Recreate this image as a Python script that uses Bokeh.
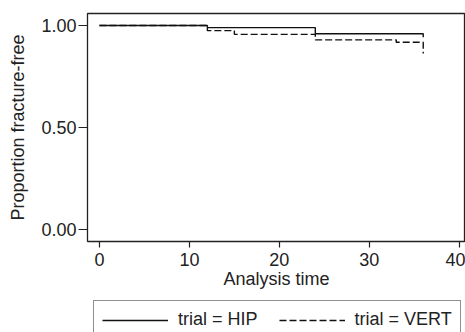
from bokeh.plotting import figure
from bokeh.layouts import column
from bokeh.models import FixedTicker, Legend, LegendItem, Range1d, PrintfTickFormatter
from bokeh.embed import file_html
from bokeh.resources import INLINE

# Data
hip_time = [0, 12, 24, 36]
hip_surv = [1.0, 0.99, 0.96, 0.943]
vert_time = [0, 12, 15, 24, 33, 36]
vert_surv = [1.0, 0.975, 0.957, 0.93, 0.918, 0.863]
x_ticks = [0, 10, 20, 30, 40]
y_ticks = [0.0, 0.5, 1.0]
labels = ["trial = HIP", "trial = VERT"]

FONT = "Liberation Sans"
FS = "18px"
INK = "#222222"
DASH = "7 3"

p = figure(frame_width=378, frame_height=228, output_backend="svg", toolbar_location=None,
           x_range=Range1d(-1.33, 40.7), y_range=Range1d(-0.057, 1.059),
           min_border_left=87, min_border_top=13, min_border_right=0, min_border_bottom=52)
p.xgrid.visible = False
p.ygrid.visible = False
p.outline_line_color = INK
p.outline_line_width = 1.3

r1 = p.step(hip_time, hip_surv, mode="after", line_color="#111111", line_width=1.4)
r2 = p.step(vert_time, vert_surv, mode="after", line_color="#111111", line_width=1.4,
            line_dash=DASH)

for ax in (p.xaxis[0], p.yaxis[0]):
    ax.axis_line_color = None
    ax.major_tick_line_color = INK
    ax.major_tick_line_width = 1.2
    ax.minor_tick_line_color = None
    ax.major_tick_in = 0
    ax.major_label_text_font = FONT
    ax.major_label_text_font_size = FS
    ax.major_label_text_color = INK
    ax.axis_label_text_font = FONT
    ax.axis_label_text_font_size = FS
    ax.axis_label_text_font_style = "normal"
    ax.axis_label_text_color = INK

p.xaxis.ticker = FixedTicker(ticks=x_ticks)
p.yaxis.ticker = FixedTicker(ticks=y_ticks)
p.yaxis.formatter = PrintfTickFormatter(format="%.2f")
p.xaxis.major_tick_out = 6
p.yaxis.major_tick_out = 9
p.xaxis.major_label_standoff = 5
p.yaxis.major_label_standoff = 2
p.xaxis.axis_label = "Analysis time"
p.yaxis.axis_label = "Proportion fracture-free"
p.xaxis.axis_label_standoff = 0
p.yaxis.axis_label_standoff = 10

# Legend strip below the plot (series drawn off-view so only the legend shows)
q = figure(width=465, height=40, output_backend="svg", toolbar_location=None,
           x_axis_type=None, y_axis_type=None,
           x_range=Range1d(0, 1), y_range=Range1d(5, 6),
           min_border_left=0, min_border_right=0, min_border_top=0, min_border_bottom=0)
q.xgrid.visible = False
q.ygrid.visible = False
q.outline_line_color = None
l1 = q.step(hip_time, hip_surv, mode="after", line_color="#111111", line_width=1.4)
l2 = q.step(vert_time, vert_surv, mode="after", line_color="#111111", line_width=1.4,
            line_dash=DASH)

legend = Legend(items=[LegendItem(label=labels[0], renderers=[l1]),
                       LegendItem(label=labels[1], renderers=[l2])],
                orientation="horizontal", location=(6, -6),
                border_line_color=INK, border_line_width=1.2,
                padding=8, spacing=21, glyph_width=66, glyph_height=18,
                label_standoff=10, label_text_font=FONT, label_text_font_size=FS,
                label_text_color=INK, margin=0)
q.add_layout(legend, "center")

open("out.html", "w").write(file_html(column(p, q, spacing=0), INLINE))
